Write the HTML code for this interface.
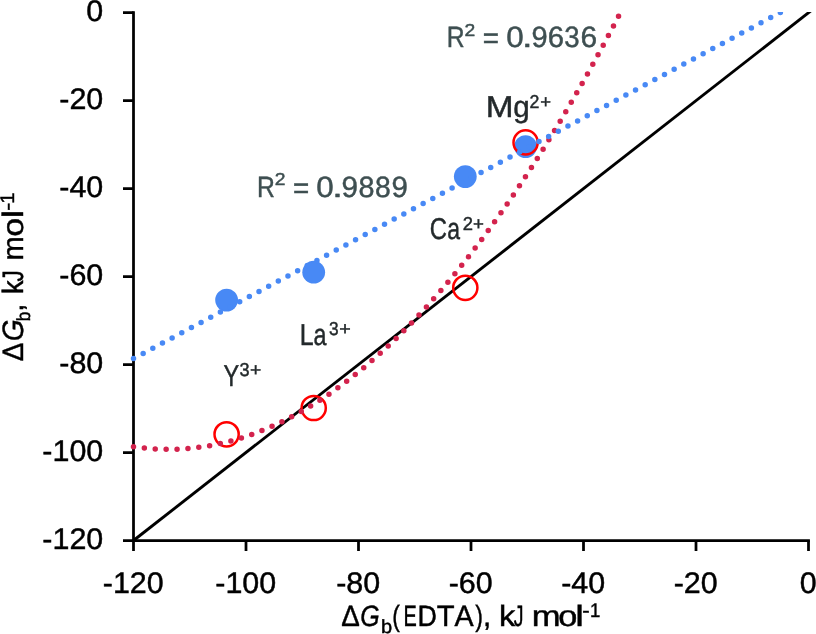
<!DOCTYPE html>
<html><head><meta charset="utf-8"><style>
html,body{margin:0;padding:0;background:#fff;}
svg{display:block;will-change:transform;}
text{font-family:"Liberation Sans",sans-serif;font-kerning:none;}
</style></head><body>
<svg width="816" height="634" viewBox="0 0 816 634" text-rendering="geometricPrecision">
<rect width="816" height="634" fill="#fff"/>
<path d="M133.5,11.299999999999999 V540.5 H809.9" fill="none" stroke="#000" stroke-width="2.75"/>
<path d="M123.00,12.70 H133.5 M123.00,100.67 H133.5 M123.00,188.63 H133.5 M123.00,276.60 H133.5 M123.00,364.57 H133.5 M123.00,452.53 H133.5 M123.00,540.50 H133.5 M133.50,540.5 V551.00 M246.00,540.5 V551.00 M358.50,540.5 V551.00 M471.00,540.5 V551.00 M583.50,540.5 V551.00 M696.00,540.5 V551.00 M808.50,540.5 V551.00" fill="none" stroke="#000" stroke-width="2.75"/>
<defs><clipPath id="pc"><rect x="0" y="12.0" width="816" height="622"/></clipPath></defs>
<line x1="133.5" y1="540.5" x2="813.5" y2="8.79037037037037" stroke="#000" stroke-width="2.9" clip-path="url(#pc)"/>
<circle cx="226.6" cy="300.1" r="11.4" fill="#4889f5"/>
<circle cx="313.7" cy="272.2" r="11.4" fill="#4889f5"/>
<circle cx="465.3" cy="176.6" r="11.4" fill="#4889f5"/>
<circle cx="525.6" cy="146.6" r="11.4" fill="#4889f5"/>
<circle cx="226.6" cy="434.3" r="12.1" fill="none" stroke="#ff0000" stroke-width="2.5"/>
<circle cx="313.7" cy="408.0" r="12.1" fill="none" stroke="#ff0000" stroke-width="2.5"/>
<circle cx="465.3" cy="287.8" r="12.1" fill="none" stroke="#ff0000" stroke-width="2.5"/>
<circle cx="525.6" cy="142.4" r="12.1" fill="none" stroke="#ff0000" stroke-width="2.5"/>
<path d="M133.50,446.77 Q378.99,483.12 624.48,4.70" fill="none" stroke="#d3234d" stroke-width="5.5" stroke-linecap="round" stroke-dasharray="0 10.92" clip-path="url(#pc)"/>
<path d="M133.50,358.58 L794.77,4.70" fill="none" stroke="#4889f5" stroke-width="5.5" stroke-linecap="round" stroke-dasharray="0 10.95" clip-path="url(#pc)"/>
<g fill="#000" stroke="#000" stroke-width="0.45" transform="translate(86.36,21.05) scale(1.0250,1)"><text x="0.00" y="0.00" font-size="29.70">0</text></g>
<g fill="#000" stroke="#000" stroke-width="0.45" transform="translate(59.29,109.02) scale(1.0250,1)"><text x="0.00" y="0.00" font-size="29.70">-20</text></g>
<g fill="#000" stroke="#000" stroke-width="0.45" transform="translate(59.29,196.98) scale(1.0250,1)"><text x="0.00" y="0.00" font-size="29.70">-40</text></g>
<g fill="#000" stroke="#000" stroke-width="0.45" transform="translate(59.29,284.95) scale(1.0250,1)"><text x="0.00" y="0.00" font-size="29.70">-60</text></g>
<g fill="#000" stroke="#000" stroke-width="0.45" transform="translate(59.29,372.92) scale(1.0250,1)"><text x="0.00" y="0.00" font-size="29.70">-80</text></g>
<g fill="#000" stroke="#000" stroke-width="0.45" transform="translate(42.36,460.88) scale(1.0250,1)"><text x="0.00" y="0.00" font-size="29.70">-100</text></g>
<g fill="#000" stroke="#000" stroke-width="0.45" transform="translate(42.36,548.85) scale(1.0250,1)"><text x="0.00" y="0.00" font-size="29.70">-120</text></g>
<g fill="#000" stroke="#000" stroke-width="0.45" transform="translate(102.75,593.00) scale(1.0250,1)"><text x="0.00" y="0.00" font-size="29.70">-120</text></g>
<g fill="#000" stroke="#000" stroke-width="0.45" transform="translate(215.25,593.00) scale(1.0250,1)"><text x="0.00" y="0.00" font-size="29.70">-100</text></g>
<g fill="#000" stroke="#000" stroke-width="0.45" transform="translate(336.22,593.00) scale(1.0250,1)"><text x="0.00" y="0.00" font-size="29.70">-80</text></g>
<g fill="#000" stroke="#000" stroke-width="0.45" transform="translate(448.72,593.00) scale(1.0250,1)"><text x="0.00" y="0.00" font-size="29.70">-60</text></g>
<g fill="#000" stroke="#000" stroke-width="0.45" transform="translate(561.22,593.00) scale(1.0250,1)"><text x="0.00" y="0.00" font-size="29.70">-40</text></g>
<g fill="#000" stroke="#000" stroke-width="0.45" transform="translate(673.72,593.00) scale(1.0250,1)"><text x="0.00" y="0.00" font-size="29.70">-20</text></g>
<g fill="#000" stroke="#000" stroke-width="0.45" transform="translate(799.83,593.00) scale(1.0250,1)"><text x="0.00" y="0.00" font-size="29.70">0</text></g>
<text transform="translate(446.87,47.40) scale(0.8421,1)" font-size="29.40" fill="#3e4f51" stroke="#3e4f51" stroke-width="0.45">R</text><text transform="translate(464.43,35.70) scale(1.1166,1)" font-size="17.30" fill="#3e4f51" stroke="#3e4f51" stroke-width="0.45">2</text><text transform="translate(482.74,48.00) scale(0.9451,1)" font-size="29.40" fill="#3e4f51" stroke="#3e4f51" stroke-width="0.45">=</text><text transform="translate(506.17,47.40) scale(1.0673,1)" font-size="29.40" fill="#3e4f51" stroke="#3e4f51" stroke-width="0.45">0</text><text transform="translate(521.95,47.40) scale(1.2860,1)" font-size="29.40" fill="#3e4f51" stroke="#3e4f51" stroke-width="0.45">.</text><text transform="translate(531.54,47.40) scale(0.9867,1)" font-size="29.40" fill="#3e4f51" stroke="#3e4f51" stroke-width="0.45">9</text><text transform="translate(547.71,47.40) scale(0.9951,1)" font-size="29.40" fill="#3e4f51" stroke="#3e4f51" stroke-width="0.45">6</text><text transform="translate(564.15,47.40) scale(0.9398,1)" font-size="29.40" fill="#3e4f51" stroke="#3e4f51" stroke-width="0.45">3</text><text transform="translate(580.58,47.40) scale(1.0173,1)" font-size="29.40" fill="#3e4f51" stroke="#3e4f51" stroke-width="0.45">6</text>
<text transform="translate(257.07,197.10) scale(0.8421,1)" font-size="29.40" fill="#3e4f51" stroke="#3e4f51" stroke-width="0.45">R</text><text transform="translate(274.63,185.40) scale(1.1166,1)" font-size="17.30" fill="#3e4f51" stroke="#3e4f51" stroke-width="0.45">2</text><text transform="translate(292.94,197.70) scale(0.9451,1)" font-size="29.40" fill="#3e4f51" stroke="#3e4f51" stroke-width="0.45">=</text><text transform="translate(316.37,197.10) scale(1.0673,1)" font-size="29.40" fill="#3e4f51" stroke="#3e4f51" stroke-width="0.45">0</text><text transform="translate(332.15,197.10) scale(1.2860,1)" font-size="29.40" fill="#3e4f51" stroke="#3e4f51" stroke-width="0.45">.</text><text transform="translate(341.51,197.10) scale(1.0088,1)" font-size="29.40" fill="#3e4f51" stroke="#3e4f51" stroke-width="0.45">9</text><text transform="translate(358.45,197.10) scale(0.9786,1)" font-size="29.40" fill="#3e4f51" stroke="#3e4f51" stroke-width="0.45">8</text><text transform="translate(374.97,197.10) scale(0.9641,1)" font-size="29.40" fill="#3e4f51" stroke="#3e4f51" stroke-width="0.45">8</text><text transform="translate(391.42,197.10) scale(1.0015,1)" font-size="29.40" fill="#3e4f51" stroke="#3e4f51" stroke-width="0.45">9</text>
<text transform="translate(485.67,117.40) scale(1.1038,1)" font-size="30.20" fill="#23292b" stroke="#23292b" stroke-width="0.45">M</text><text transform="translate(513.36,117.40) scale(0.9793,1)" font-size="30.20" fill="#23292b" stroke="#23292b" stroke-width="0.45">g</text><text transform="translate(529.61,107.60) scale(0.9508,1)" font-size="18.70" fill="#23292b" stroke="#23292b" stroke-width="0.45">2</text><text transform="translate(540.30,107.60) scale(0.9906,1)" font-size="18.70" fill="#23292b" stroke="#23292b" stroke-width="0.45">+</text>
<text transform="translate(429.69,239.20) scale(0.7895,1)" font-size="30.20" fill="#23292b" stroke="#23292b" stroke-width="0.45">C</text><text transform="translate(447.22,239.20) scale(0.7607,1)" font-size="30.20" fill="#23292b" stroke="#23292b" stroke-width="0.45">a</text><text transform="translate(462.77,229.90) scale(0.9860,1)" font-size="18.70" fill="#23292b" stroke="#23292b" stroke-width="0.45">2</text><text transform="translate(473.09,229.90) scale(1.0016,1)" font-size="18.70" fill="#23292b" stroke="#23292b" stroke-width="0.45">+</text>
<text transform="translate(299.75,344.50) scale(0.8261,1)" font-size="30.20" fill="#23292b" stroke="#23292b" stroke-width="0.45">L</text><text transform="translate(313.51,344.50) scale(0.7736,1)" font-size="30.20" fill="#23292b" stroke="#23292b" stroke-width="0.45">a</text><text transform="translate(328.94,334.60) scale(0.9249,1)" font-size="18.70" fill="#23292b" stroke="#23292b" stroke-width="0.45">3</text><text transform="translate(339.24,334.60) scale(1.0567,1)" font-size="18.70" fill="#23292b" stroke="#23292b" stroke-width="0.45">+</text>
<text transform="translate(223.39,385.60) scale(0.7759,1)" font-size="30.20" fill="#23292b" stroke="#23292b" stroke-width="0.45">Y</text><text transform="translate(239.41,375.90) scale(0.9700,1)" font-size="18.70" fill="#23292b" stroke="#23292b" stroke-width="0.45">3</text><text transform="translate(249.96,375.90) scale(1.0346,1)" font-size="18.70" fill="#23292b" stroke="#23292b" stroke-width="0.45">+</text>
<text transform="translate(341.37,626.20) scale(0.9424,1)" font-size="29.50" fill="#000" stroke="#000" stroke-width="0.45">Δ</text><text transform="translate(360.37,626.20) scale(0.8455,1)" font-size="29.50" fill="#000" stroke="#000" stroke-width="0.45" font-style="italic">G</text><text transform="translate(380.91,633.30) scale(1.0478,1)" font-size="19.10" fill="#000" stroke="#000" stroke-width="0.45">b</text><text transform="translate(392.27,626.20) scale(0.7799,1)" font-size="29.50" fill="#000" stroke="#000" stroke-width="0.45">(</text><text transform="translate(403.47,626.20) scale(0.6755,1)" font-size="29.50" fill="#000" stroke="#000" stroke-width="0.45">E</text><text transform="translate(417.40,626.20) scale(0.9100,1)" font-size="29.50" fill="#000" stroke="#000" stroke-width="0.45">D</text><text transform="translate(436.74,626.20) scale(0.9892,1)" font-size="29.50" fill="#000" stroke="#000" stroke-width="0.45">T</text><text transform="translate(454.44,626.20) scale(0.9713,1)" font-size="29.50" fill="#000" stroke="#000" stroke-width="0.45">A</text><text transform="translate(475.27,626.20) scale(0.7799,1)" font-size="29.50" fill="#000" stroke="#000" stroke-width="0.45">)</text><text transform="translate(482.95,626.20) scale(1.0000,1)" font-size="29.50" fill="#000" stroke="#000" stroke-width="0.45">,</text><text transform="translate(498.91,626.20) scale(1.1011,1)" font-size="29.50" fill="#000" stroke="#000" stroke-width="0.45">k</text><text transform="translate(513.70,626.20) scale(0.6612,1)" font-size="29.50" fill="#000" stroke="#000" stroke-width="0.45">J</text><text transform="translate(531.81,626.20) scale(1.1708,1)" font-size="29.50" fill="#000" stroke="#000" stroke-width="0.45">m</text><text transform="translate(558.26,626.20) scale(1.1630,1)" font-size="29.50" fill="#000" stroke="#000" stroke-width="0.45">o</text><text transform="translate(575.29,626.20) scale(1.3113,1)" font-size="29.50" fill="#000" stroke="#000" stroke-width="0.45">l</text><text transform="translate(582.32,616.80) scale(1.1228,1)" font-size="19.70" fill="#000" stroke="#000" stroke-width="0.45">-</text><text transform="translate(589.99,616.80) scale(0.9419,1)" font-size="19.70" fill="#000" stroke="#000" stroke-width="0.45">1</text>
<g transform="translate(23.2,0) rotate(-90)"><text transform="translate(-361.23,0.00) scale(0.9480,1)" font-size="29.50" fill="#000" stroke="#000" stroke-width="0.45">Δ</text><text transform="translate(-341.28,0.00) scale(0.9494,1)" font-size="29.50" fill="#000" stroke="#000" stroke-width="0.45" font-style="italic">G</text><text transform="translate(-321.29,7.10) scale(0.8848,1)" font-size="19.10" fill="#000" stroke="#000" stroke-width="0.45">b</text><text transform="translate(-311.65,0.00) scale(1.0000,1)" font-size="29.50" fill="#000" stroke="#000" stroke-width="0.45">,</text><text transform="translate(-293.93,0.00) scale(0.9215,1)" font-size="29.50" fill="#000" stroke="#000" stroke-width="0.45">k</text><text transform="translate(-281.55,0.00) scale(0.7604,1)" font-size="29.50" fill="#000" stroke="#000" stroke-width="0.45">J</text><text transform="translate(-260.62,0.00) scale(0.9821,1)" font-size="29.50" fill="#000" stroke="#000" stroke-width="0.45">m</text><text transform="translate(-236.82,0.00) scale(1.1487,1)" font-size="29.50" fill="#000" stroke="#000" stroke-width="0.45">o</text><text transform="translate(-218.25,0.00) scale(1.2342,1)" font-size="29.50" fill="#000" stroke="#000" stroke-width="0.45">l</text><text transform="translate(-210.69,-9.40) scale(1.2475,1)" font-size="19.70" fill="#000" stroke="#000" stroke-width="0.45">-</text><text transform="translate(-203.64,-9.40) scale(1.0243,1)" font-size="19.70" fill="#000" stroke="#000" stroke-width="0.45">1</text></g>
</svg>
</body></html>
